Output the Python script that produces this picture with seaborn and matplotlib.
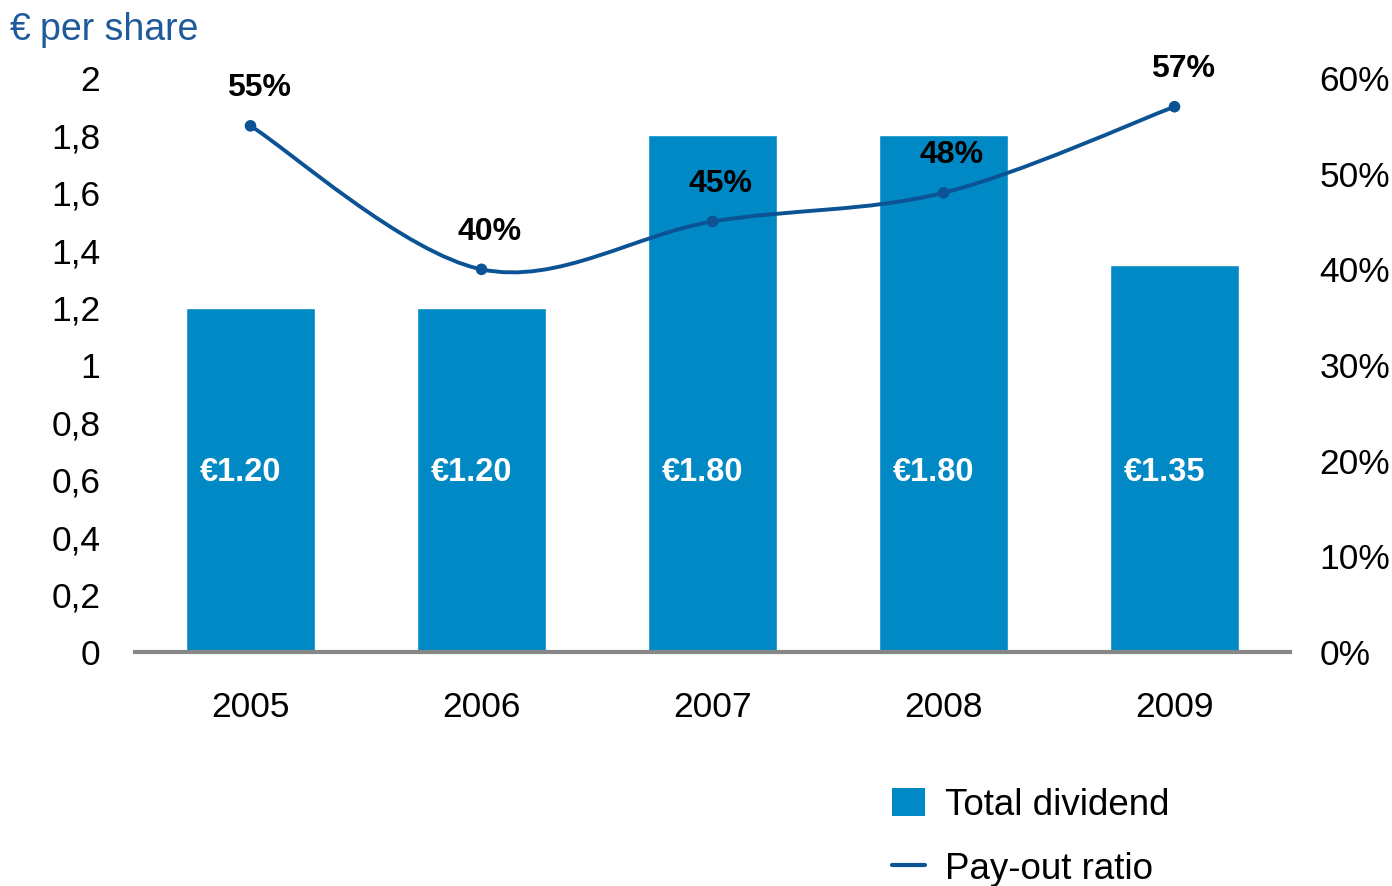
import matplotlib
matplotlib.use("Agg")
import matplotlib.pyplot as plt
from matplotlib.path import Path
from matplotlib.patches import PathPatch, Patch
from matplotlib.lines import Line2D
from matplotlib.ticker import FixedLocator, FuncFormatter
import numpy as np
import pandas as pd
import seaborn as sns

# Dividend data
years = ["2005", "2006", "2007", "2008", "2009"]
dividend = [1.20, 1.20, 1.80, 1.80, 1.35]
payout_pct = [55, 40, 45, 48, 57]
dividend_labels = ["€1.20", "€1.20", "€1.80", "€1.80", "€1.35"]
left_ticks = [0, 0.2, 0.4, 0.6, 0.8, 1.0, 1.2, 1.4, 1.6, 1.8, 2.0]
right_ticks = [0, 10, 20, 30, 40, 50, 60]

BAR = "#0089C4"
LINE = "#0B5394"
TITLE = "#1F5B9A"

sns.set_style("white")
plt.rcParams["font.family"] = ["Liberation Sans", "DejaVu Sans"]
plt.rcParams["text.color"] = "black"

df = pd.DataFrame({"year": years, "dividend": dividend, "payout": payout_pct})

fig = plt.figure(figsize=(13.92, 8.86), dpi=100)
ax = fig.add_axes([135 / 1392, 1 - 652 / 886, 1155 / 1392, 574 / 886])

sns.barplot(data=df, x="year", y="dividend", color=BAR, saturation=1,
            width=0.56, ax=ax, zorder=2)
ax.set_xlim(-0.5, 4.5)
ax.set_ylim(0, 2)
ax.set_xlabel("")
ax.set_ylabel("")

for s in ["top", "right", "left"]:
    ax.spines[s].set_visible(False)
ax.spines["bottom"].set_color("#878787")
ax.spines["bottom"].set_linewidth(3)
ax.spines["bottom"].set_zorder(5)

ax.yaxis.set_major_locator(FixedLocator(left_ticks))
ax.yaxis.set_major_formatter(FuncFormatter(
    lambda v, p: ("%g" % round(v, 1)).replace(".", ",")))
ax.tick_params(axis="y", length=0, pad=25, labelsize=25.5, labelcolor="black")
ax.tick_params(axis="x", length=0, pad=28, labelsize=25.5, labelcolor="black")

# value labels inside the bars
for i, lab in enumerate(dividend_labels):
    ax.annotate(lab, (i, 0.625), xytext=(-7, 0), textcoords="offset points",
                ha="center", va="center", color="white", fontsize=23.5,
                fontweight="bold", zorder=4)

# pay-out ratio on a secondary axis
ax2 = ax.twinx()
ax2.set_ylim(0, 60)
for s in ["top", "right", "left", "bottom"]:
    ax2.spines[s].set_visible(False)
ax2.yaxis.set_major_locator(FixedLocator(right_ticks))
ax2.yaxis.set_major_formatter(FuncFormatter(lambda v, p: f"{v:.0f}%"))
ax2.tick_params(axis="y", length=0, pad=21, labelsize=25.5, labelcolor="black")

# smoothed curve through the ratios (Catmull-Rom as cubic Bezier segments)
xs = np.arange(len(years), dtype=float)
pts = np.column_stack([xs, np.asarray(payout_pct, dtype=float)])
verts = [tuple(pts[0])]
codes = [Path.MOVETO]
n = len(pts)
for i in range(n - 1):
    p0 = pts[max(i - 1, 0)]
    p1 = pts[i]
    p2 = pts[i + 1]
    p3 = pts[min(i + 2, n - 1)]
    c1 = p1 + (p2 - p0) / 6.0
    c2 = p2 - (p3 - p1) / 6.0
    verts += [tuple(c1), tuple(c2), tuple(p2)]
    codes += [Path.CURVE4] * 3
ax2.add_patch(PathPatch(Path(verts, codes), facecolor="none", edgecolor=LINE,
                        linewidth=2.8, zorder=3, capstyle="round"))
sns.scatterplot(data=df.assign(pos=xs), x="pos", y="payout", color=LINE,
                s=70, edgecolor="none", ax=ax2, zorder=4, legend=False)
ax2.set_xlabel("")
ax2.set_ylabel("")
ax2.set_xlim(-0.5, 4.5)

for i, v in enumerate(payout_pct):
    ax2.annotate(f"{v}%", (i, v), xytext=(6, 27), textcoords="offset points",
                 ha="center", va="center", fontsize=23, fontweight="bold",
                 color="black")

# unit label
fig.text(10 / 1392, 1 - 30 / 886, "€", color=TITLE, fontsize=27,
         ha="left", va="center")
fig.text(40 / 1392, 1 - 30 / 886, "per share", color=TITLE, fontsize=27,
         ha="left", va="center")

# legend
handles = [Patch(facecolor=BAR, edgecolor="none"),
           Line2D([0], [0], color=LINE, linewidth=3)]
leg = fig.legend(handles, ["Total dividend", "Pay-out ratio"],
                 loc="upper left", bbox_to_anchor=(892 / 1392, 1 - 788 / 886),
                 frameon=False, fontsize=26.5, handlelength=0.9,
                 handleheight=0.8, handletextpad=0.55, labelspacing=0.78,
                 borderpad=0, borderaxespad=0)
for t in leg.get_texts():
    t.set_color("black")

fig.savefig("out.png", dpi=100)
